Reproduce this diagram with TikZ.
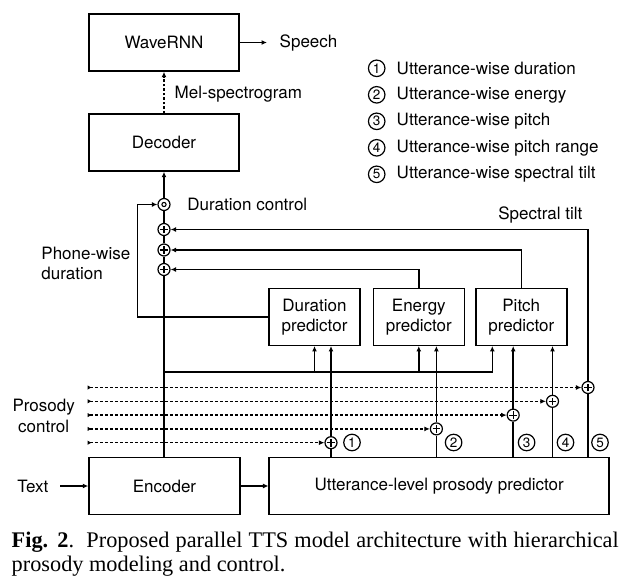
\documentclass[tikz,border=0pt]{standalone}
\usepackage{fontspec}
\setmainfont{Liberation Serif}
\newfontfamily\hel{TeX Gyre Heros}
\usetikzlibrary{arrows.meta}
\begin{document}
\begin{tikzpicture}[x=1pt,y=-1pt, line width=1.45pt,
  >={Latex[length=5.5pt,width=5pt]},
  box/.style={draw, rectangle, inner sep=0pt, align=center,
    font=\hel\fontsize{17}{20.5}\selectfont},
  lbl/.style={inner sep=0pt, font=\hel\fontsize{17}{20.5}\selectfont},
  sumnode/.style={draw, circle, minimum size=12pt, inner sep=0pt, line width=1.2pt,
    path picture={\draw[line width=1.1pt]
      ([xshift=-3.8pt]path picture bounding box.center) -- ([xshift=3.8pt]path picture bounding box.center)
      ([yshift=-3.8pt]path picture bounding box.center) -- ([yshift=3.8pt]path picture bounding box.center);}},
  odotnode/.style={draw, circle, minimum size=12pt, inner sep=0pt, line width=1.2pt,
    path picture={\draw[line width=1.1pt] (path picture bounding box.center) circle (2.1pt);}},
  num/.style={draw, circle, minimum size=16.5pt, inner sep=0pt, line width=1.2pt,
    font=\hel\fontsize{13.5}{13.5}\selectfont},
  ctrl/.style={line width=1.4pt, dash pattern=on 3pt off 2pt,
    {Latex[reversed,length=4pt,width=4.5pt]}-{Latex[length=5.5pt,width=5pt]}},
  mel/.style={dash pattern=on 2.5pt off 2pt, ->}
]
\useasboundingbox (0,0) rectangle (627,587);

% boxes
\node[box, minimum width=150pt, minimum height=57pt] (wave) at (164,42.5) {WaveRNN};
\node[box, minimum width=150pt, minimum height=57pt] (dec) at (164,142.5) {Decoder};
\node[box, minimum width=91pt, minimum height=56.5pt] (dur) at (314.5,317) {Duration\\predictor};
\node[box, minimum width=91pt, minimum height=56.5pt] (en) at (418.8,317) {Energy\\predictor};
\node[box, minimum width=91pt, minimum height=56.5pt] (pit) at (521.3,317) {Pitch\\predictor};
\node[box, minimum width=151pt, minimum height=56.6pt] (enc) at (164.5,486) {Encoder};
\node[box, minimum width=340pt, minimum height=56.6pt] (utt) at (439.2,486) {Utterance-level prosody predictor};

% summing junctions
\node[odotnode] (od) at (164,204.5) {};
\node[sumnode] (p1) at (164,229.5) {};
\node[sumnode] (p2) at (164,250) {};
\node[sumnode] (p3) at (164,269.5) {};
\node[sumnode] (c1) at (331,442.7) {};
\node[sumnode] (c2) at (436.4,428.9) {};
\node[sumnode] (c3) at (513.2,415.1) {};
\node[sumnode] (c4) at (552.5,401.3) {};
\node[sumnode] (c5) at (588,387.5) {};

% labels
\node[lbl, anchor=west] (speech) at (279,43) {Speech};
\node[lbl, anchor=west] (mellbl) at (174,94) {Mel-spectrogram};
\node[lbl, anchor=west] (dclbl) at (186.7,204.5) {Duration control};
\node[lbl, anchor=east] (stlbl) at (583,215) {Spectral tilt};
\node[lbl, anchor=west, align=left] (pwlbl) at (40.7,263.3) {Phone-wise\\duration};
\node[lbl, align=center] (pclbl) at (43.7,416) {Prosody\\control};
\node[lbl, anchor=west] (txt) at (16.7,486) {Text};

% legend
\node[num] (l1) at (376.7,68.3) {1};
\node[num] (l2) at (376.7,94.8) {2};
\node[num] (l3) at (376.7,121.3) {3};
\node[num] (l4) at (376.7,147.8) {4};
\node[num] (l5) at (376.7,174.3) {5};
\node[lbl, anchor=west] (t1) at (396,68.3) {Utterance-wise duration};
\node[lbl, anchor=west] (t2) at (396,94.8) {Utterance-wise energy};
\node[lbl, anchor=west] (t3) at (396,121.3) {Utterance-wise pitch};
\node[lbl, anchor=west] (t4) at (396,147.8) {Utterance-wise pitch range};
\node[lbl, anchor=west] (t5) at (396,174.3) {Utterance-wise spectral tilt};

% numbers near junctions
\node[num] (n1) at (352,442.5) {1};
\node[num] (n2) at (453.6,442.5) {2};
\node[num] (n3) at (526.6,442.5) {3};
\node[num] (n4) at (565.5,442.5) {4};
\node[num] (n5) at (600,442.5) {5};

% coordinates
\coordinate (b0) at (164,372);
\coordinate (fb) at (137.5,0);
\coordinate (s1) at (87.6,442.7);
\coordinate (s2) at (87.6,428.9);
\coordinate (s3) at (87.6,415.1);
\coordinate (s4) at (87.6,401.3);
\coordinate (s5) at (87.6,387.5);

% main column
\draw (enc.north -| p3) -- (p3);
\draw (p3) -- (p2);
\draw (p2) -- (p1);
\draw (p1) -- (od);
\draw[->] (od) -- (dec.south -| od);
\draw[mel] (dec.north) -- (wave.south);
\draw[->] (wave.east) -- ([xshift=-12pt]speech.west |- wave.east);
\draw[->] ([xshift=11pt]txt.east) -- (enc.west);
\draw[->] (enc.east) -- (utt.west);

% encoder branch to predictors
\draw[->] (b0) -| (dur.south);
\draw[->] (b0) -| (en.south);
\draw[->] (b0) -| ([xshift=-29pt]pit.south);

% predictor outputs
\draw[->] (dur.west) -- (dur.west -| fb) |- (od);
\draw[->] (en.north) |- (p3);
\draw[->] (pit.north) |- (p2);

% utterance-level outputs
\draw (utt.north -| c1) -- (c1);
\draw[->] (c1) -- (dur.south -| c1);
\draw (utt.north -| c2) -- (c2);
\draw[->] (c2) -- (en.south -| c2);
\draw (utt.north -| c3) -- (c3);
\draw[->] (c3) -- (pit.south -| c3);
\draw (utt.north -| c4) -- (c4);
\draw[->] (c4) -- (pit.south -| c4);
\draw (utt.north -| c5) -- (c5);
\draw[->] (c5) |- (p1);

% prosody control inputs
\draw[ctrl] (s1) -- (c1);
\draw[ctrl] (s2) -- (c2);
\draw[ctrl] (s3) -- (c3);
\draw[ctrl] (s4) -- (c4);
\draw[ctrl] (s5) -- (c5);

% caption
\node[anchor=north west, inner sep=0pt, text width=607pt, align=justify,
  font=\fontsize{22.3}{23.5}\selectfont] (cap) at (11,531.5)
  {\textbf{Fig. 2}.\ \ Proposed parallel TTS model architecture with hierarchical\linebreak prosody modeling and control.};
\end{tikzpicture}
\end{document}
